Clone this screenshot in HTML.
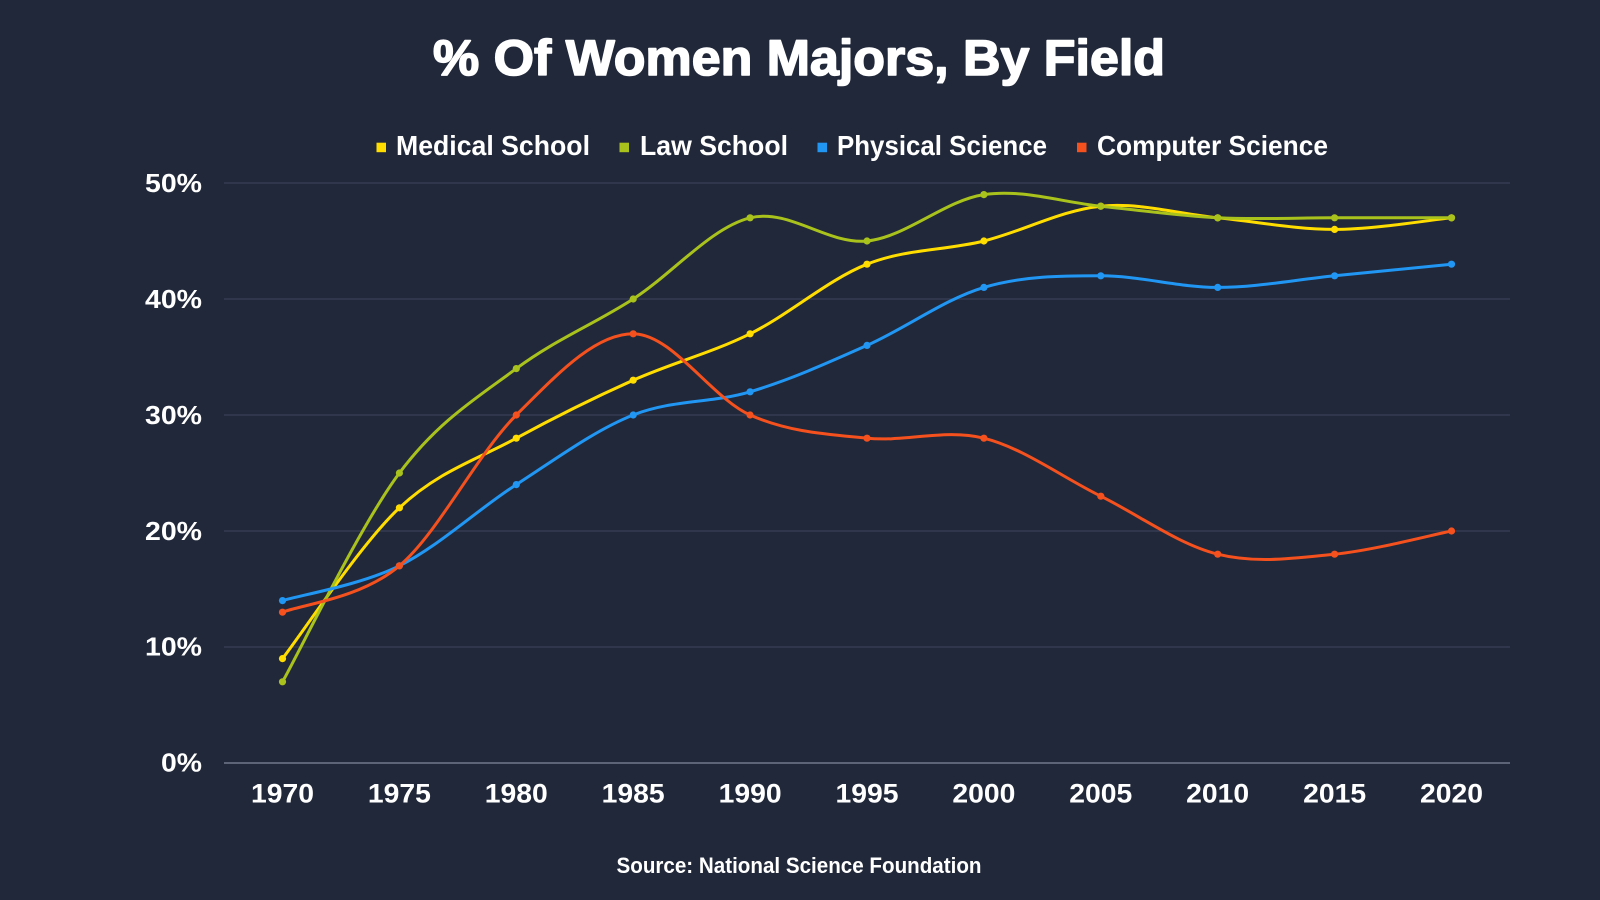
<!DOCTYPE html>
<html>
<head>
<meta charset="utf-8">
<style>
  html, body { margin: 0; padding: 0; background: #21283a; }
  svg { display: block; }
  text { font-family: "Liberation Sans", sans-serif; fill: #ffffff; }
</style>
</head>
<body>
<svg width="1600" height="900" viewBox="0 0 1600 900" xmlns="http://www.w3.org/2000/svg">
  <rect x="0" y="0" width="1600" height="900" fill="#21283a"/>

  <!-- Title -->
  <text x="799" y="75" font-size="50" font-weight="bold" text-anchor="middle" textLength="732" lengthAdjust="spacingAndGlyphs" stroke="#ffffff" stroke-width="1.6" stroke-linejoin="round">% Of Women Majors, By Field</text>

  <!-- Legend -->
  <rect x="376.5" y="142.7" width="9.5" height="9.5" fill="#ffdd00"/>
  <text x="396" y="155" font-size="28" font-weight="bold" textLength="194" lengthAdjust="spacingAndGlyphs">Medical School</text>
  <rect x="619.5" y="142.7" width="9.5" height="9.5" fill="#a9c21c"/>
  <text x="640" y="155" font-size="28" font-weight="bold" textLength="148" lengthAdjust="spacingAndGlyphs">Law School</text>
  <rect x="817.5" y="142.7" width="9.5" height="9.5" fill="#2196f3"/>
  <text x="837" y="155" font-size="28" font-weight="bold" textLength="210" lengthAdjust="spacingAndGlyphs">Physical Science</text>
  <rect x="1077" y="142.7" width="9.5" height="9.5" fill="#f4511e"/>
  <text x="1097" y="155" font-size="28" font-weight="bold" textLength="231" lengthAdjust="spacingAndGlyphs">Computer Science</text>

  <!-- Gridlines -->
  <g stroke="#394057" stroke-width="1.3">
    <line x1="224" y1="183" x2="1510" y2="183"/>
    <line x1="224" y1="299" x2="1510" y2="299"/>
    <line x1="224" y1="415" x2="1510" y2="415"/>
    <line x1="224" y1="531" x2="1510" y2="531"/>
    <line x1="224" y1="647" x2="1510" y2="647"/>
  </g>
  <line x1="224" y1="763" x2="1510" y2="763" stroke="#5e6478" stroke-width="2"/>

  <!-- Y labels -->
  <g font-size="26" font-weight="bold" text-anchor="end">
    <text x="202" y="192" textLength="57" lengthAdjust="spacingAndGlyphs">50%</text>
    <text x="202" y="308" textLength="57" lengthAdjust="spacingAndGlyphs">40%</text>
    <text x="202" y="424" textLength="57" lengthAdjust="spacingAndGlyphs">30%</text>
    <text x="202" y="540" textLength="57" lengthAdjust="spacingAndGlyphs">20%</text>
    <text x="202" y="655.5" textLength="57" lengthAdjust="spacingAndGlyphs">10%</text>
    <text x="202" y="771.5" textLength="41" lengthAdjust="spacingAndGlyphs">0%</text>
  </g>

  <!-- X labels -->
  <g font-size="27" font-weight="bold" text-anchor="middle">
    <text x="282.5" y="802.7" textLength="63" lengthAdjust="spacingAndGlyphs">1970</text>
    <text x="399.4" y="802.7" textLength="63" lengthAdjust="spacingAndGlyphs">1975</text>
    <text x="516.3" y="802.7" textLength="63" lengthAdjust="spacingAndGlyphs">1980</text>
    <text x="633.2" y="802.7" textLength="63" lengthAdjust="spacingAndGlyphs">1985</text>
    <text x="750.1" y="802.7" textLength="63" lengthAdjust="spacingAndGlyphs">1990</text>
    <text x="867" y="802.7" textLength="63" lengthAdjust="spacingAndGlyphs">1995</text>
    <text x="983.9" y="802.7" textLength="63" lengthAdjust="spacingAndGlyphs">2000</text>
    <text x="1100.8" y="802.7" textLength="63" lengthAdjust="spacingAndGlyphs">2005</text>
    <text x="1217.7" y="802.7" textLength="63" lengthAdjust="spacingAndGlyphs">2010</text>
    <text x="1334.6" y="802.7" textLength="63" lengthAdjust="spacingAndGlyphs">2015</text>
    <text x="1451.5" y="802.7" textLength="63" lengthAdjust="spacingAndGlyphs">2020</text>
  </g>

  <!-- Series lines -->
  <g fill="none" stroke-width="3" stroke-linecap="round" stroke-linejoin="round">
    <!-- Medical School -->
    <path stroke="#ffdd00" d="M282.5,658.6 C302,633.5 360.4,544.5 399.4,507.8 S477.3,459.5 516.3,438.2 S594.2,397.6 633.2,380.2 S711.1,353.1 750.1,333.8 S828,279.7 867,264.2 S944.9,250.7 983.9,241 S1061.8,210.1 1100.8,206.2 S1178.7,213.9 1217.7,217.8 S1295.6,229.4 1334.6,229.4 S1432,219.7 1451.5,217.8"/>
    <!-- Law School -->
    <path stroke="#a9c21c" d="M282.5,681.8 C302,647 360.4,525.2 399.4,473 S477.3,397.6 516.3,368.6 S594.2,324.1 633.2,299 S711.1,227.5 750.1,217.8 S828,244.9 867,241 S944.9,200.4 983.9,194.6 S1061.8,202.3 1100.8,206.2 S1178.7,215.9 1217.7,217.8 S1295.6,217.8 1334.6,217.8 S1432,217.8 1451.5,217.8"/>
    <!-- Physical Science -->
    <path stroke="#2196f3" d="M282.5,600.6 C302,594.8 360.4,585.1 399.4,565.8 S477.3,509.7 516.3,484.6 S594.2,430.5 633.2,415 S711.1,403.4 750.1,391.8 S828,362.8 867,345.4 S944.9,299 983.9,287.4 S1061.8,275.8 1100.8,275.8 S1178.7,287.4 1217.7,287.4 S1295.6,279.7 1334.6,275.8 S1432,266.1 1451.5,264.2"/>
    <!-- Computer Science -->
    <path stroke="#f4511e" d="M282.5,612.2 C302,604.5 360.4,598.7 399.4,565.8 S477.3,453.7 516.3,415 S594.2,333.8 633.2,333.8 S711.1,397.6 750.1,415 S828,434.3 867,438.2 S944.9,428.5 983.9,438.2 S1061.8,476.9 1100.8,496.2 S1178.7,544.5 1217.7,554.2 S1295.6,558.1 1334.6,554.2 S1432,534.9 1451.5,531"/>
  </g>

  <!-- Markers -->
  <g fill="#ffdd00">
    <circle cx="282.5" cy="658.6" r="3.6"/><circle cx="399.4" cy="507.8" r="3.6"/><circle cx="516.3" cy="438.2" r="3.6"/><circle cx="633.2" cy="380.2" r="3.6"/><circle cx="750.1" cy="333.8" r="3.6"/><circle cx="867" cy="264.2" r="3.6"/><circle cx="983.9" cy="241" r="3.6"/><circle cx="1100.8" cy="206.2" r="3.6"/><circle cx="1217.7" cy="217.8" r="3.6"/><circle cx="1334.6" cy="229.4" r="3.6"/><circle cx="1451.5" cy="217.8" r="3.6"/>
  </g>
  <g fill="#a9c21c">
    <circle cx="282.5" cy="681.8" r="3.6"/><circle cx="399.4" cy="473" r="3.6"/><circle cx="516.3" cy="368.6" r="3.6"/><circle cx="633.2" cy="299" r="3.6"/><circle cx="750.1" cy="217.8" r="3.6"/><circle cx="867" cy="241" r="3.6"/><circle cx="983.9" cy="194.6" r="3.6"/><circle cx="1100.8" cy="206.2" r="3.6"/><circle cx="1217.7" cy="217.8" r="3.6"/><circle cx="1334.6" cy="217.8" r="3.6"/><circle cx="1451.5" cy="217.8" r="3.6"/>
  </g>
  <g fill="#2196f3">
    <circle cx="282.5" cy="600.6" r="3.6"/><circle cx="399.4" cy="565.8" r="3.6"/><circle cx="516.3" cy="484.6" r="3.6"/><circle cx="633.2" cy="415" r="3.6"/><circle cx="750.1" cy="391.8" r="3.6"/><circle cx="867" cy="345.4" r="3.6"/><circle cx="983.9" cy="287.4" r="3.6"/><circle cx="1100.8" cy="275.8" r="3.6"/><circle cx="1217.7" cy="287.4" r="3.6"/><circle cx="1334.6" cy="275.8" r="3.6"/><circle cx="1451.5" cy="264.2" r="3.6"/>
  </g>
  <g fill="#f4511e">
    <circle cx="282.5" cy="612.2" r="3.6"/><circle cx="399.4" cy="565.8" r="3.6"/><circle cx="516.3" cy="415" r="3.6"/><circle cx="633.2" cy="333.8" r="3.6"/><circle cx="750.1" cy="415" r="3.6"/><circle cx="867" cy="438.2" r="3.6"/><circle cx="983.9" cy="438.2" r="3.6"/><circle cx="1100.8" cy="496.2" r="3.6"/><circle cx="1217.7" cy="554.2" r="3.6"/><circle cx="1334.6" cy="554.2" r="3.6"/><circle cx="1451.5" cy="531" r="3.6"/>
  </g>

  <!-- Source -->
  <text x="799" y="873" font-size="22" font-weight="bold" text-anchor="middle" textLength="365" lengthAdjust="spacingAndGlyphs">Source: National Science Foundation</text>
</svg>
</body>
</html>
